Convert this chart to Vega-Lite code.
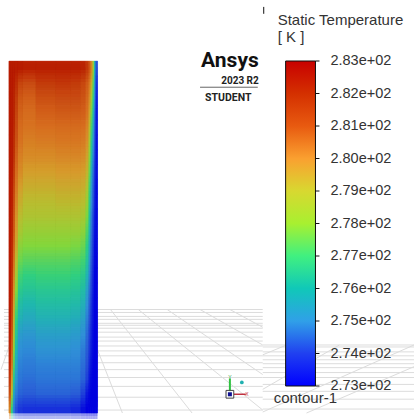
{"$schema":"https://vega.github.io/schema/vega-lite/v6.json","width":415,"height":419,"padding":0,"autosize":{"type":"fit","contains":"padding"},"background":"white","view":{"stroke":null},
"datasets":{
"plate":[
{"x0":8,"x1":10,"y0":62,"y1":77,"t":283},{"x0":10,"x1":12,"y0":62,"y1":77,"t":283},{"x0":12,"x1":14,"y0":62,"y1":77,"t":283},{"x0":14,"x1":17,"y0":62,"y1":77,"t":283},{"x0":17,"x1":22,"y0":62,"y1":77,"t":283},{"x0":22,"x1":35,"y0":62,"y1":77,"t":282.9},{"x0":35,"x1":55,"y0":62,"y1":77,"t":282.9},{"x0":55,"x1":70,"y0":62,"y1":77,"t":282.9},{"x0":70,"x1":80,"y0":62,"y1":77,"t":282.9},{"x0":80,"x1":85,"y0":62,"y1":77,"t":282.8},{"x0":85,"x1":88,"y0":62,"y1":77,"t":282.4},{"x0":88,"x1":90,"y0":62,"y1":77,"t":281.7},{"x0":90,"x1":92,"y0":62,"y1":77,"t":280.5},{"x0":92,"x1":93.5,"y0":62,"y1":77,"t":278.5},{"x0":93.5,"x1":95,"y0":62,"y1":77,"t":276},{"x0":95,"x1":97,"y0":62,"y1":77,"t":274},
{"x0":8,"x1":10,"y0":77,"y1":92,"t":283},{"x0":10,"x1":12,"y0":77,"y1":92,"t":283},{"x0":12,"x1":14,"y0":77,"y1":92,"t":282.9},{"x0":14,"x1":17,"y0":77,"y1":92,"t":282.6},{"x0":17,"x1":22,"y0":77,"y1":92,"t":282.1},{"x0":22,"x1":35,"y0":77,"y1":92,"t":281.9},{"x0":35,"x1":55,"y0":77,"y1":92,"t":282.3},{"x0":55,"x1":70,"y0":77,"y1":92,"t":282.4},{"x0":70,"x1":80,"y0":77,"y1":92,"t":282.3},{"x0":80,"x1":85,"y0":77,"y1":92,"t":282},{"x0":85,"x1":88,"y0":77,"y1":92,"t":281.5},{"x0":88,"x1":90,"y0":77,"y1":92,"t":280.8},{"x0":90,"x1":92,"y0":77,"y1":92,"t":279.5},{"x0":92,"x1":93.5,"y0":77,"y1":92,"t":277.5},{"x0":93.5,"x1":95,"y0":77,"y1":92,"t":275.5},{"x0":95,"x1":97,"y0":77,"y1":92,"t":273.6},
{"x0":8,"x1":10,"y0":92,"y1":107,"t":283},{"x0":10,"x1":12,"y0":92,"y1":107,"t":283},{"x0":12,"x1":14,"y0":92,"y1":107,"t":282.8},{"x0":14,"x1":17,"y0":92,"y1":107,"t":282.3},{"x0":17,"x1":22,"y0":92,"y1":107,"t":281.6},{"x0":22,"x1":35,"y0":92,"y1":107,"t":281.4},{"x0":35,"x1":55,"y0":92,"y1":107,"t":281.8},{"x0":55,"x1":70,"y0":92,"y1":107,"t":281.9},{"x0":70,"x1":80,"y0":92,"y1":107,"t":281.9},{"x0":80,"x1":85,"y0":92,"y1":107,"t":281.7},{"x0":85,"x1":88,"y0":92,"y1":107,"t":281.2},{"x0":88,"x1":90,"y0":92,"y1":107,"t":280.3},{"x0":90,"x1":92,"y0":92,"y1":107,"t":278.6},{"x0":92,"x1":93.5,"y0":92,"y1":107,"t":276.8},{"x0":93.5,"x1":95,"y0":92,"y1":107,"t":275},{"x0":95,"x1":97,"y0":92,"y1":107,"t":273.4},
{"x0":8,"x1":10,"y0":107,"y1":122,"t":283},{"x0":10,"x1":12,"y0":107,"y1":122,"t":283},{"x0":12,"x1":14,"y0":107,"y1":122,"t":282.8},{"x0":14,"x1":17,"y0":107,"y1":122,"t":282.1},{"x0":17,"x1":22,"y0":107,"y1":122,"t":281.3},{"x0":22,"x1":35,"y0":107,"y1":122,"t":281.1},{"x0":35,"x1":55,"y0":107,"y1":122,"t":281.4},{"x0":55,"x1":70,"y0":107,"y1":122,"t":281.5},{"x0":70,"x1":80,"y0":107,"y1":122,"t":281.5},{"x0":80,"x1":85,"y0":107,"y1":122,"t":281.4},{"x0":85,"x1":88,"y0":107,"y1":122,"t":280.9},{"x0":88,"x1":90,"y0":107,"y1":122,"t":279.8},{"x0":90,"x1":92,"y0":107,"y1":122,"t":277.8},{"x0":92,"x1":93.5,"y0":107,"y1":122,"t":276},{"x0":93.5,"x1":95,"y0":107,"y1":122,"t":274.6},{"x0":95,"x1":97,"y0":107,"y1":122,"t":273.3},
{"x0":8,"x1":10,"y0":122,"y1":137,"t":283},{"x0":10,"x1":12,"y0":122,"y1":137,"t":283},{"x0":12,"x1":14,"y0":122,"y1":137,"t":282.7},{"x0":14,"x1":17,"y0":122,"y1":137,"t":281.9},{"x0":17,"x1":22,"y0":122,"y1":137,"t":281.1},{"x0":22,"x1":35,"y0":122,"y1":137,"t":280.9},{"x0":35,"x1":55,"y0":122,"y1":137,"t":281},{"x0":55,"x1":70,"y0":122,"y1":137,"t":281.1},{"x0":70,"x1":80,"y0":122,"y1":137,"t":281.1},{"x0":80,"x1":85,"y0":122,"y1":137,"t":281},{"x0":85,"x1":88,"y0":122,"y1":137,"t":280.5},{"x0":88,"x1":90,"y0":122,"y1":137,"t":279.2},{"x0":90,"x1":92,"y0":122,"y1":137,"t":277.2},{"x0":92,"x1":93.5,"y0":122,"y1":137,"t":275.5},{"x0":93.5,"x1":95,"y0":122,"y1":137,"t":274.3},{"x0":95,"x1":97,"y0":122,"y1":137,"t":273.3},
{"x0":8,"x1":10,"y0":137,"y1":152,"t":283},{"x0":10,"x1":12,"y0":137,"y1":152,"t":283},{"x0":12,"x1":14,"y0":137,"y1":152,"t":282.6},{"x0":14,"x1":17,"y0":137,"y1":152,"t":281.7},{"x0":17,"x1":22,"y0":137,"y1":152,"t":280.9},{"x0":22,"x1":35,"y0":137,"y1":152,"t":280.6},{"x0":35,"x1":55,"y0":137,"y1":152,"t":280.7},{"x0":55,"x1":70,"y0":137,"y1":152,"t":280.8},{"x0":70,"x1":80,"y0":137,"y1":152,"t":280.8},{"x0":80,"x1":85,"y0":137,"y1":152,"t":280.7},{"x0":85,"x1":88,"y0":137,"y1":152,"t":280.2},{"x0":88,"x1":90,"y0":137,"y1":152,"t":278.7},{"x0":90,"x1":92,"y0":137,"y1":152,"t":276.7},{"x0":92,"x1":93.5,"y0":137,"y1":152,"t":275},{"x0":93.5,"x1":95,"y0":137,"y1":152,"t":274.1},{"x0":95,"x1":97,"y0":137,"y1":152,"t":273.2},
{"x0":8,"x1":10,"y0":152,"y1":167,"t":283},{"x0":10,"x1":12,"y0":152,"y1":167,"t":283},{"x0":12,"x1":14,"y0":152,"y1":167,"t":282.5},{"x0":14,"x1":17,"y0":152,"y1":167,"t":281.4},{"x0":17,"x1":22,"y0":152,"y1":167,"t":280.6},{"x0":22,"x1":35,"y0":152,"y1":167,"t":280.3},{"x0":35,"x1":55,"y0":152,"y1":167,"t":280.3},{"x0":55,"x1":70,"y0":152,"y1":167,"t":280.4},{"x0":70,"x1":80,"y0":152,"y1":167,"t":280.4},{"x0":80,"x1":85,"y0":152,"y1":167,"t":280.3},{"x0":85,"x1":88,"y0":152,"y1":167,"t":279.7},{"x0":88,"x1":90,"y0":152,"y1":167,"t":278.2},{"x0":90,"x1":92,"y0":152,"y1":167,"t":276.2},{"x0":92,"x1":93.5,"y0":152,"y1":167,"t":274.7},{"x0":93.5,"x1":95,"y0":152,"y1":167,"t":273.9},{"x0":95,"x1":97,"y0":152,"y1":167,"t":273.2},
{"x0":8,"x1":10,"y0":167,"y1":182,"t":283},{"x0":10,"x1":12,"y0":167,"y1":182,"t":283},{"x0":12,"x1":14,"y0":167,"y1":182,"t":282.3},{"x0":14,"x1":17,"y0":167,"y1":182,"t":281.1},{"x0":17,"x1":22,"y0":167,"y1":182,"t":280.3},{"x0":22,"x1":35,"y0":167,"y1":182,"t":279.9},{"x0":35,"x1":55,"y0":167,"y1":182,"t":279.9},{"x0":55,"x1":70,"y0":167,"y1":182,"t":280},{"x0":70,"x1":80,"y0":167,"y1":182,"t":280},{"x0":80,"x1":85,"y0":167,"y1":182,"t":279.9},{"x0":85,"x1":88,"y0":167,"y1":182,"t":279.3},{"x0":88,"x1":90,"y0":167,"y1":182,"t":277.7},{"x0":90,"x1":92,"y0":167,"y1":182,"t":275.7},{"x0":92,"x1":93.5,"y0":167,"y1":182,"t":274.4},{"x0":93.5,"x1":95,"y0":167,"y1":182,"t":273.7},{"x0":95,"x1":97,"y0":167,"y1":182,"t":273.2},
{"x0":8,"x1":10,"y0":182,"y1":197,"t":283},{"x0":10,"x1":12,"y0":182,"y1":197,"t":282.9},{"x0":12,"x1":14,"y0":182,"y1":197,"t":282.1},{"x0":14,"x1":17,"y0":182,"y1":197,"t":280.8},{"x0":17,"x1":22,"y0":182,"y1":197,"t":279.9},{"x0":22,"x1":35,"y0":182,"y1":197,"t":279.5},{"x0":35,"x1":55,"y0":182,"y1":197,"t":279.5},{"x0":55,"x1":70,"y0":182,"y1":197,"t":279.6},{"x0":70,"x1":80,"y0":182,"y1":197,"t":279.6},{"x0":80,"x1":85,"y0":182,"y1":197,"t":279.5},{"x0":85,"x1":88,"y0":182,"y1":197,"t":278.8},{"x0":88,"x1":90,"y0":182,"y1":197,"t":277.2},{"x0":90,"x1":92,"y0":182,"y1":197,"t":275.3},{"x0":92,"x1":93.5,"y0":182,"y1":197,"t":274.1},{"x0":93.5,"x1":95,"y0":182,"y1":197,"t":273.6},{"x0":95,"x1":97,"y0":182,"y1":197,"t":273.1},
{"x0":8,"x1":10,"y0":197,"y1":212,"t":283},{"x0":10,"x1":12,"y0":197,"y1":212,"t":282.9},{"x0":12,"x1":14,"y0":197,"y1":212,"t":281.9},{"x0":14,"x1":17,"y0":197,"y1":212,"t":280.5},{"x0":17,"x1":22,"y0":197,"y1":212,"t":279.5},{"x0":22,"x1":35,"y0":197,"y1":212,"t":279.1},{"x0":35,"x1":55,"y0":197,"y1":212,"t":279.1},{"x0":55,"x1":70,"y0":197,"y1":212,"t":279.2},{"x0":70,"x1":80,"y0":197,"y1":212,"t":279.2},{"x0":80,"x1":85,"y0":197,"y1":212,"t":279.1},{"x0":85,"x1":88,"y0":197,"y1":212,"t":278.4},{"x0":88,"x1":90,"y0":197,"y1":212,"t":276.8},{"x0":90,"x1":92,"y0":197,"y1":212,"t":275},{"x0":92,"x1":93.5,"y0":197,"y1":212,"t":274},{"x0":93.5,"x1":95,"y0":197,"y1":212,"t":273.5},{"x0":95,"x1":97,"y0":197,"y1":212,"t":273.1},
{"x0":8,"x1":10,"y0":212,"y1":227,"t":283},{"x0":10,"x1":12,"y0":212,"y1":227,"t":282.8},{"x0":12,"x1":14,"y0":212,"y1":227,"t":281.7},{"x0":14,"x1":17,"y0":212,"y1":227,"t":280.2},{"x0":17,"x1":22,"y0":212,"y1":227,"t":279.1},{"x0":22,"x1":35,"y0":212,"y1":227,"t":278.8},{"x0":35,"x1":55,"y0":212,"y1":227,"t":278.8},{"x0":55,"x1":70,"y0":212,"y1":227,"t":278.8},{"x0":70,"x1":80,"y0":212,"y1":227,"t":278.8},{"x0":80,"x1":85,"y0":212,"y1":227,"t":278.7},{"x0":85,"x1":88,"y0":212,"y1":227,"t":277.9},{"x0":88,"x1":90,"y0":212,"y1":227,"t":276.3},{"x0":90,"x1":92,"y0":212,"y1":227,"t":274.7},{"x0":92,"x1":93.5,"y0":212,"y1":227,"t":273.8},{"x0":93.5,"x1":95,"y0":212,"y1":227,"t":273.4},{"x0":95,"x1":97,"y0":212,"y1":227,"t":273.1},
{"x0":8,"x1":10,"y0":227,"y1":242,"t":283},{"x0":10,"x1":12,"y0":227,"y1":242,"t":282.8},{"x0":12,"x1":14,"y0":227,"y1":242,"t":281.6},{"x0":14,"x1":17,"y0":227,"y1":242,"t":280},{"x0":17,"x1":22,"y0":227,"y1":242,"t":278.7},{"x0":22,"x1":35,"y0":227,"y1":242,"t":278.4},{"x0":35,"x1":55,"y0":227,"y1":242,"t":278.4},{"x0":55,"x1":70,"y0":227,"y1":242,"t":278.4},{"x0":70,"x1":80,"y0":227,"y1":242,"t":278.4},{"x0":80,"x1":85,"y0":227,"y1":242,"t":278.2},{"x0":85,"x1":88,"y0":227,"y1":242,"t":277.4},{"x0":88,"x1":90,"y0":227,"y1":242,"t":275.9},{"x0":90,"x1":92,"y0":227,"y1":242,"t":274.5},{"x0":92,"x1":93.5,"y0":227,"y1":242,"t":273.7},{"x0":93.5,"x1":95,"y0":227,"y1":242,"t":273.3},{"x0":95,"x1":97,"y0":227,"y1":242,"t":273.1},
{"x0":8,"x1":10,"y0":242,"y1":257,"t":283},{"x0":10,"x1":12,"y0":242,"y1":257,"t":282.7},{"x0":12,"x1":14,"y0":242,"y1":257,"t":281.3},{"x0":14,"x1":17,"y0":242,"y1":257,"t":279.6},{"x0":17,"x1":22,"y0":242,"y1":257,"t":278.2},{"x0":22,"x1":35,"y0":242,"y1":257,"t":278},{"x0":35,"x1":55,"y0":242,"y1":257,"t":278},{"x0":55,"x1":70,"y0":242,"y1":257,"t":278},{"x0":70,"x1":80,"y0":242,"y1":257,"t":277.9},{"x0":80,"x1":85,"y0":242,"y1":257,"t":277.7},{"x0":85,"x1":88,"y0":242,"y1":257,"t":276.9},{"x0":88,"x1":90,"y0":242,"y1":257,"t":275.5},{"x0":90,"x1":92,"y0":242,"y1":257,"t":274.3},{"x0":92,"x1":93.5,"y0":242,"y1":257,"t":273.6},{"x0":93.5,"x1":95,"y0":242,"y1":257,"t":273.2},{"x0":95,"x1":97,"y0":242,"y1":257,"t":273.1},
{"x0":8,"x1":10,"y0":257,"y1":272,"t":283},{"x0":10,"x1":12,"y0":257,"y1":272,"t":282.6},{"x0":12,"x1":14,"y0":257,"y1":272,"t":281},{"x0":14,"x1":17,"y0":257,"y1":272,"t":279.1},{"x0":17,"x1":22,"y0":257,"y1":272,"t":277.7},{"x0":22,"x1":35,"y0":257,"y1":272,"t":277.5},{"x0":35,"x1":55,"y0":257,"y1":272,"t":277.5},{"x0":55,"x1":70,"y0":257,"y1":272,"t":277.5},{"x0":70,"x1":80,"y0":257,"y1":272,"t":277.4},{"x0":80,"x1":85,"y0":257,"y1":272,"t":277.2},{"x0":85,"x1":88,"y0":257,"y1":272,"t":276.4},{"x0":88,"x1":90,"y0":257,"y1":272,"t":275.1},{"x0":90,"x1":92,"y0":257,"y1":272,"t":274.1},{"x0":92,"x1":93.5,"y0":257,"y1":272,"t":273.5},{"x0":93.5,"x1":95,"y0":257,"y1":272,"t":273.2},{"x0":95,"x1":97,"y0":257,"y1":272,"t":273},
{"x0":8,"x1":10,"y0":272,"y1":287,"t":283},{"x0":10,"x1":12,"y0":272,"y1":287,"t":282.5},{"x0":12,"x1":14,"y0":272,"y1":287,"t":280.6},{"x0":14,"x1":17,"y0":272,"y1":287,"t":278.6},{"x0":17,"x1":22,"y0":272,"y1":287,"t":277.2},{"x0":22,"x1":35,"y0":272,"y1":287,"t":277},{"x0":35,"x1":55,"y0":272,"y1":287,"t":277.1},{"x0":55,"x1":70,"y0":272,"y1":287,"t":277.1},{"x0":70,"x1":80,"y0":272,"y1":287,"t":277},{"x0":80,"x1":85,"y0":272,"y1":287,"t":276.7},{"x0":85,"x1":88,"y0":272,"y1":287,"t":275.9},{"x0":88,"x1":90,"y0":272,"y1":287,"t":274.8},{"x0":90,"x1":92,"y0":272,"y1":287,"t":273.9},{"x0":92,"x1":93.5,"y0":272,"y1":287,"t":273.4},{"x0":93.5,"x1":95,"y0":272,"y1":287,"t":273.1},{"x0":95,"x1":97,"y0":272,"y1":287,"t":273},
{"x0":8,"x1":10,"y0":287,"y1":302,"t":283},{"x0":10,"x1":12,"y0":287,"y1":302,"t":282.4},{"x0":12,"x1":14,"y0":287,"y1":302,"t":280.2},{"x0":14,"x1":17,"y0":287,"y1":302,"t":278},{"x0":17,"x1":22,"y0":287,"y1":302,"t":276.7},{"x0":22,"x1":35,"y0":287,"y1":302,"t":276.5},{"x0":35,"x1":55,"y0":287,"y1":302,"t":276.6},{"x0":55,"x1":70,"y0":287,"y1":302,"t":276.6},{"x0":70,"x1":80,"y0":287,"y1":302,"t":276.5},{"x0":80,"x1":85,"y0":287,"y1":302,"t":276.2},{"x0":85,"x1":88,"y0":287,"y1":302,"t":275.4},{"x0":88,"x1":90,"y0":287,"y1":302,"t":274.5},{"x0":90,"x1":92,"y0":287,"y1":302,"t":273.8},{"x0":92,"x1":93.5,"y0":287,"y1":302,"t":273.3},{"x0":93.5,"x1":95,"y0":287,"y1":302,"t":273.1},{"x0":95,"x1":97,"y0":287,"y1":302,"t":273},
{"x0":8,"x1":10,"y0":302,"y1":317,"t":283},{"x0":10,"x1":12,"y0":302,"y1":317,"t":282.2},{"x0":12,"x1":14,"y0":302,"y1":317,"t":279.8},{"x0":14,"x1":17,"y0":302,"y1":317,"t":277.5},{"x0":17,"x1":22,"y0":302,"y1":317,"t":276.2},{"x0":22,"x1":35,"y0":302,"y1":317,"t":276},{"x0":35,"x1":55,"y0":302,"y1":317,"t":276.2},{"x0":55,"x1":70,"y0":302,"y1":317,"t":276.2},{"x0":70,"x1":80,"y0":302,"y1":317,"t":276.1},{"x0":80,"x1":85,"y0":302,"y1":317,"t":275.8},{"x0":85,"x1":88,"y0":302,"y1":317,"t":275},{"x0":88,"x1":90,"y0":302,"y1":317,"t":274.2},{"x0":90,"x1":92,"y0":302,"y1":317,"t":273.6},{"x0":92,"x1":93.5,"y0":302,"y1":317,"t":273.2},{"x0":93.5,"x1":95,"y0":302,"y1":317,"t":273.1},{"x0":95,"x1":97,"y0":302,"y1":317,"t":273},
{"x0":8,"x1":10,"y0":317,"y1":332,"t":283},{"x0":10,"x1":12,"y0":317,"y1":332,"t":282},{"x0":12,"x1":14,"y0":317,"y1":332,"t":279.3},{"x0":14,"x1":17,"y0":317,"y1":332,"t":277},{"x0":17,"x1":22,"y0":317,"y1":332,"t":275.8},{"x0":22,"x1":35,"y0":317,"y1":332,"t":275.6},{"x0":35,"x1":55,"y0":317,"y1":332,"t":275.8},{"x0":55,"x1":70,"y0":317,"y1":332,"t":275.8},{"x0":70,"x1":80,"y0":317,"y1":332,"t":275.7},{"x0":80,"x1":85,"y0":317,"y1":332,"t":275.4},{"x0":85,"x1":88,"y0":317,"y1":332,"t":274.7},{"x0":88,"x1":90,"y0":317,"y1":332,"t":274},{"x0":90,"x1":92,"y0":317,"y1":332,"t":273.5},{"x0":92,"x1":93.5,"y0":317,"y1":332,"t":273.2},{"x0":93.5,"x1":95,"y0":317,"y1":332,"t":273},{"x0":95,"x1":97,"y0":317,"y1":332,"t":273},
{"x0":8,"x1":10,"y0":332,"y1":347,"t":282.9},{"x0":10,"x1":12,"y0":332,"y1":347,"t":281.7},{"x0":12,"x1":14,"y0":332,"y1":347,"t":278.8},{"x0":14,"x1":17,"y0":332,"y1":347,"t":276.5},{"x0":17,"x1":22,"y0":332,"y1":347,"t":275.3},{"x0":22,"x1":35,"y0":332,"y1":347,"t":275.2},{"x0":35,"x1":55,"y0":332,"y1":347,"t":275.4},{"x0":55,"x1":70,"y0":332,"y1":347,"t":275.4},{"x0":70,"x1":80,"y0":332,"y1":347,"t":275.3},{"x0":80,"x1":85,"y0":332,"y1":347,"t":275},{"x0":85,"x1":88,"y0":332,"y1":347,"t":274.4},{"x0":88,"x1":90,"y0":332,"y1":347,"t":273.8},{"x0":90,"x1":92,"y0":332,"y1":347,"t":273.4},{"x0":92,"x1":93.5,"y0":332,"y1":347,"t":273.1},{"x0":93.5,"x1":95,"y0":332,"y1":347,"t":273},{"x0":95,"x1":97,"y0":332,"y1":347,"t":273},
{"x0":8,"x1":10,"y0":347,"y1":362,"t":282.8},{"x0":10,"x1":12,"y0":347,"y1":362,"t":281.3},{"x0":12,"x1":14,"y0":347,"y1":362,"t":278.2},{"x0":14,"x1":17,"y0":347,"y1":362,"t":276},{"x0":17,"x1":22,"y0":347,"y1":362,"t":275},{"x0":22,"x1":35,"y0":347,"y1":362,"t":274.9},{"x0":35,"x1":55,"y0":347,"y1":362,"t":275.1},{"x0":55,"x1":70,"y0":347,"y1":362,"t":275.1},{"x0":70,"x1":80,"y0":347,"y1":362,"t":275},{"x0":80,"x1":85,"y0":347,"y1":362,"t":274.7},{"x0":85,"x1":88,"y0":347,"y1":362,"t":274.2},{"x0":88,"x1":90,"y0":347,"y1":362,"t":273.7},{"x0":90,"x1":92,"y0":347,"y1":362,"t":273.3},{"x0":92,"x1":93.5,"y0":347,"y1":362,"t":273.1},{"x0":93.5,"x1":95,"y0":347,"y1":362,"t":273},{"x0":95,"x1":97,"y0":347,"y1":362,"t":273},
{"x0":8,"x1":10,"y0":362,"y1":377,"t":282.7},{"x0":10,"x1":12,"y0":362,"y1":377,"t":280.8},{"x0":12,"x1":14,"y0":362,"y1":377,"t":277.5},{"x0":14,"x1":17,"y0":362,"y1":377,"t":275.6},{"x0":17,"x1":22,"y0":362,"y1":377,"t":274.8},{"x0":22,"x1":35,"y0":362,"y1":377,"t":274.7},{"x0":35,"x1":55,"y0":362,"y1":377,"t":274.8},{"x0":55,"x1":70,"y0":362,"y1":377,"t":274.8},{"x0":70,"x1":80,"y0":362,"y1":377,"t":274.8},{"x0":80,"x1":85,"y0":362,"y1":377,"t":274.5},{"x0":85,"x1":88,"y0":362,"y1":377,"t":274},{"x0":88,"x1":90,"y0":362,"y1":377,"t":273.5},{"x0":90,"x1":92,"y0":362,"y1":377,"t":273.2},{"x0":92,"x1":93.5,"y0":362,"y1":377,"t":273},{"x0":93.5,"x1":95,"y0":362,"y1":377,"t":273},{"x0":95,"x1":97,"y0":362,"y1":377,"t":273},
{"x0":8,"x1":10,"y0":377,"y1":392,"t":282.4},{"x0":10,"x1":12,"y0":377,"y1":392,"t":280},{"x0":12,"x1":14,"y0":377,"y1":392,"t":276.7},{"x0":14,"x1":17,"y0":377,"y1":392,"t":275.2},{"x0":17,"x1":22,"y0":377,"y1":392,"t":274.6},{"x0":22,"x1":35,"y0":377,"y1":392,"t":274.5},{"x0":35,"x1":55,"y0":377,"y1":392,"t":274.6},{"x0":55,"x1":70,"y0":377,"y1":392,"t":274.6},{"x0":70,"x1":80,"y0":377,"y1":392,"t":274.6},{"x0":80,"x1":85,"y0":377,"y1":392,"t":274.3},{"x0":85,"x1":88,"y0":377,"y1":392,"t":273.8},{"x0":88,"x1":90,"y0":377,"y1":392,"t":273.3},{"x0":90,"x1":92,"y0":377,"y1":392,"t":273.1},{"x0":92,"x1":93.5,"y0":377,"y1":392,"t":273},{"x0":93.5,"x1":95,"y0":377,"y1":392,"t":273},{"x0":95,"x1":97,"y0":377,"y1":392,"t":273},
{"x0":8,"x1":10,"y0":392,"y1":407,"t":281.8},{"x0":10,"x1":12,"y0":392,"y1":407,"t":278.8},{"x0":12,"x1":14,"y0":392,"y1":407,"t":275.7},{"x0":14,"x1":17,"y0":392,"y1":407,"t":274.7},{"x0":17,"x1":22,"y0":392,"y1":407,"t":274.3},{"x0":22,"x1":35,"y0":392,"y1":407,"t":274.2},{"x0":35,"x1":55,"y0":392,"y1":407,"t":274.3},{"x0":55,"x1":70,"y0":392,"y1":407,"t":274.3},{"x0":70,"x1":80,"y0":392,"y1":407,"t":274.2},{"x0":80,"x1":85,"y0":392,"y1":407,"t":273.8},{"x0":85,"x1":88,"y0":392,"y1":407,"t":273.3},{"x0":88,"x1":90,"y0":392,"y1":407,"t":273.1},{"x0":90,"x1":92,"y0":392,"y1":407,"t":273},{"x0":92,"x1":93.5,"y0":392,"y1":407,"t":273},{"x0":93.5,"x1":95,"y0":392,"y1":407,"t":273},{"x0":95,"x1":97,"y0":392,"y1":407,"t":273},
{"x0":8,"x1":10,"y0":407,"y1":419,"t":280.5},{"x0":10,"x1":12,"y0":407,"y1":419,"t":277},{"x0":12,"x1":14,"y0":407,"y1":419,"t":274.8},{"x0":14,"x1":17,"y0":407,"y1":419,"t":274},{"x0":17,"x1":22,"y0":407,"y1":419,"t":273.7},{"x0":22,"x1":35,"y0":407,"y1":419,"t":273.6},{"x0":35,"x1":55,"y0":407,"y1":419,"t":273.6},{"x0":55,"x1":70,"y0":407,"y1":419,"t":273.6},{"x0":70,"x1":80,"y0":407,"y1":419,"t":273.5},{"x0":80,"x1":85,"y0":407,"y1":419,"t":273.2},{"x0":85,"x1":88,"y0":407,"y1":419,"t":273},{"x0":88,"x1":90,"y0":407,"y1":419,"t":273},{"x0":90,"x1":92,"y0":407,"y1":419,"t":273},{"x0":92,"x1":93.5,"y0":407,"y1":419,"t":273},{"x0":93.5,"x1":95,"y0":407,"y1":419,"t":273},{"x0":95,"x1":97,"y0":407,"y1":419,"t":273}
],
"floor":[
{"a":3,"b":263,"c":314,"d":314},{"a":3,"b":263,"c":317,"d":317},{"a":3,"b":263,"c":321,"d":321},{"a":3,"b":263,"c":324,"d":324},{"a":3,"b":263,"c":328,"d":328},{"a":3,"b":263,"c":330,"d":330},{"a":3,"b":263,"c":333,"d":333},{"a":3,"b":263,"c":337,"d":337},{"a":3,"b":263,"c":342,"d":342},{"a":3,"b":263,"c":346,"d":346},{"a":3,"b":263,"c":351,"d":351},{"a":3,"b":263,"c":356,"d":356},{"a":3,"b":263,"c":361,"d":361},{"a":3,"b":263,"c":368,"d":368},{"a":3,"b":263,"c":375,"d":375},{"a":3,"b":263,"c":383,"d":383},{"a":3,"b":263,"c":392,"d":392},{"a":3,"b":263,"c":403,"d":403},{"a":3,"b":263,"c":416,"d":416},
{"a":110,"b":192,"c":314,"d":419},{"a":138,"b":263,"c":314,"d":416},{"a":167,"b":263,"c":314,"d":380},{"a":200,"b":263,"c":314,"d":350},{"a":230,"b":263,"c":314,"d":332},{"a":97,"b":122,"c":355,"d":419},{"a":0,"b":8,"c":375,"d":352},
{"a":263,"b":415,"c":350,"d":350},{"a":263,"b":415,"c":352,"d":352},{"a":263,"b":415,"c":357,"d":357},{"a":263,"b":415,"c":361,"d":361},{"a":263,"b":415,"c":365,"d":365},{"a":263,"b":415,"c":369,"d":369},{"a":263,"b":415,"c":373,"d":373},{"a":263,"b":415,"c":378,"d":378},{"a":263,"b":415,"c":383,"d":383},{"a":263,"b":415,"c":390,"d":390},{"a":263,"b":415,"c":397,"d":397},{"a":263,"b":415,"c":405,"d":405},{"a":263,"b":415,"c":415,"d":415},
{"a":263,"b":287,"c":360,"d":350},{"a":263,"b":415,"c":418,"d":350},{"a":307,"b":415,"c":419,"d":372},{"a":263,"b":340,"c":395,"d":350}
],
"ticks":[{"t":283},{"t":282},{"t":281},{"t":280},{"t":279},{"t":278},{"t":277},{"t":276},{"t":275},{"t":274},{"t":273}],
"labels":[{"t":283,"s":"2.83e+02"},{"t":282,"s":"2.82e+02"},{"t":281,"s":"2.81e+02"},{"t":280,"s":"2.80e+02"},{"t":279,"s":"2.79e+02"},{"t":278,"s":"2.78e+02"},{"t":277,"s":"2.77e+02"},{"t":276,"s":"2.76e+02"},{"t":275,"s":"2.75e+02"},{"t":274,"s":"2.74e+02"},{"t":273,"s":"2.73e+02"}],
"titles":[{"x":278,"y":20,"s":"Static Temperature"},{"x":278,"y":38,"s":"[ K ]"},{"x":274,"y":404,"s":"contour-1"}]
},
"layer":[
{"data":{"name":"floor"},"mark":{"type":"rule","color":"#dcdcdc","strokeWidth":1},"encoding":{"x":{"field":"a","type":"quantitative","scale":{"domain":[0,415],"nice":false,"zero":false},"axis":null},"x2":{"field":"b"},"y":{"field":"c","type":"quantitative","scale":{"domain":[419,0],"nice":false,"zero":false},"axis":null},"y2":{"field":"d"}}},
{"data":{"name":"plate"},"mark":{"type":"rect","strokeWidth":0.6},"encoding":{"x":{"field":"x0","type":"quantitative","axis":null},"x2":{"field":"x1"},"y":{"field":"y0","type":"quantitative","scale":{"domain":[419,0],"nice":false,"zero":false},"axis":null},"y2":{"field":"y1"},"color":{"field":"t","type":"quantitative","legend":null,"scale":{"domain":[273,274,275,276,277,278,279,280,281,282,283],"range":["#0000e0","#2850d8","#3090d8","#20b8b0","#30d080","#84d83c","#b8c030","#d89a2c","#d87020","#c84810","#b81c00"],"interpolate":"rgb"}},"stroke":{"field":"t","type":"quantitative","legend":null,"scale":{"domain":[273,274,275,276,277,278,279,280,281,282,283],"range":["#0000e0","#2850d8","#3090d8","#20b8b0","#30d080","#84d83c","#b8c030","#d89a2c","#d87020","#c84810","#b81c00"],"interpolate":"rgb"}}}},
{"data":{"name":"plate"},"mark":{"type":"rect","strokeWidth":0,"opacity":0.5,"yOffset":-6,"y2Offset":-6},"encoding":{"x":{"field":"x0","type":"quantitative","axis":null},"x2":{"field":"x1"},"y":{"field":"y0","type":"quantitative","scale":{"domain":[419,0],"nice":false,"zero":false},"axis":null},"y2":{"field":"y1"},"color":{"field":"t","type":"quantitative","legend":null,"scale":{"domain":[273,274,275,276,277,278,279,280,281,282,283],"range":["#0000e0","#2850d8","#3090d8","#20b8b0","#30d080","#84d83c","#b8c030","#d89a2c","#d87020","#c84810","#b81c00"],"interpolate":"rgb"}}}},
{"data":{"name":"plate"},"mark":{"type":"rect","strokeWidth":0,"opacity":0.333,"yOffset":6,"y2Offset":6},"encoding":{"x":{"field":"x0","type":"quantitative","axis":null},"x2":{"field":"x1"},"y":{"field":"y0","type":"quantitative","scale":{"domain":[419,0],"nice":false,"zero":false},"axis":null},"y2":{"field":"y1"},"color":{"field":"t","type":"quantitative","legend":null,"scale":{"domain":[273,274,275,276,277,278,279,280,281,282,283],"range":["#0000e0","#2850d8","#3090d8","#20b8b0","#30d080","#84d83c","#b8c030","#d89a2c","#d87020","#c84810","#b81c00"],"interpolate":"rgb"}}}},
{"data":{"name":"plate"},"mark":{"type":"rect","strokeWidth":0,"opacity":0.25,"yOffset":-3,"y2Offset":-3},"encoding":{"x":{"field":"x0","type":"quantitative","axis":null},"x2":{"field":"x1"},"y":{"field":"y0","type":"quantitative","scale":{"domain":[419,0],"nice":false,"zero":false},"axis":null},"y2":{"field":"y1"},"color":{"field":"t","type":"quantitative","legend":null,"scale":{"domain":[273,274,275,276,277,278,279,280,281,282,283],"range":["#0000e0","#2850d8","#3090d8","#20b8b0","#30d080","#84d83c","#b8c030","#d89a2c","#d87020","#c84810","#b81c00"],"interpolate":"rgb"}}}},
{"data":{"name":"plate"},"mark":{"type":"rect","strokeWidth":0,"opacity":0.2,"yOffset":3,"y2Offset":3},"encoding":{"x":{"field":"x0","type":"quantitative","axis":null},"x2":{"field":"x1"},"y":{"field":"y0","type":"quantitative","scale":{"domain":[419,0],"nice":false,"zero":false},"axis":null},"y2":{"field":"y1"},"color":{"field":"t","type":"quantitative","legend":null,"scale":{"domain":[273,274,275,276,277,278,279,280,281,282,283],"range":["#0000e0","#2850d8","#3090d8","#20b8b0","#30d080","#84d83c","#b8c030","#d89a2c","#d87020","#c84810","#b81c00"],"interpolate":"rgb"}}}},
{"data":{"values":[{"a":6,"b":99,"c":50,"d":61.7}]},"mark":{"type":"rect","color":"#ffffff"},"encoding":{"x":{"field":"a","type":"quantitative","axis":null},"x2":{"field":"b"},"y":{"field":"c","type":"quantitative","scale":{"domain":[419,0],"nice":false,"zero":false},"axis":null},"y2":{"field":"d"}}},
{"data":{"values":[{"x0":286,"x1":316,"t0":273,"t1":283}]},"mark":{"type":"rect","stroke":"#111111","strokeWidth":1,"fill":{"gradient":"linear","x1":0,"y1":0,"x2":0,"y2":1,"stops":[{"offset":0,"color":"#c80000"},{"offset":0.1,"color":"#d43000"},{"offset":0.2,"color":"#e85a10"},{"offset":0.3,"color":"#faa030"},{"offset":0.4,"color":"#d8d830"},{"offset":0.5,"color":"#a8f030"},{"offset":0.6,"color":"#40f080"},{"offset":0.7,"color":"#10c8b8"},{"offset":0.8,"color":"#30a0e8"},{"offset":0.9,"color":"#2040f0"},{"offset":1,"color":"#0000ff"}]}},"encoding":{"x":{"field":"x0","type":"quantitative","axis":null},"x2":{"field":"x1"},"y":{"field":"t1","type":"quantitative","scale":{"domain":[273,283],"range":[386,61],"nice":false,"zero":false},"axis":null},"y2":{"field":"t0"}}},
{"data":{"name":"ticks"},"mark":{"type":"rule","color":"#111111","strokeWidth":1},"encoding":{"x":{"datum":316,"type":"quantitative","axis":null},"x2":{"datum":320},"y":{"field":"t","type":"quantitative","scale":{"domain":[273,283],"range":[386,61],"nice":false,"zero":false},"axis":null}}},
{"data":{"name":"labels"},"mark":{"type":"text","align":"left","baseline":"middle","font":"Liberation Sans","fontSize":14.5,"color":"#333333"},"encoding":{"x":{"datum":331,"type":"quantitative","axis":null},"y":{"field":"t","type":"quantitative","scale":{"domain":[273,283],"range":[386,61],"nice":false,"zero":false},"axis":null},"text":{"field":"s"}}},
{"data":{"name":"titles"},"mark":{"type":"text","align":"left","baseline":"middle","font":"Liberation Sans","fontSize":15,"color":"#333333"},"encoding":{"x":{"field":"x","type":"quantitative","axis":null},"y":{"field":"y","type":"quantitative","scale":{"domain":[419,0],"nice":false,"zero":false},"axis":null},"text":{"field":"s"}}},
{"data":{"values":[{"x":259,"y":68,"s":"Ansys"}]},"mark":{"type":"text","align":"right","baseline":"alphabetic","font":"Roboto","fontWeight":700,"fontSize":21,"color":"#111111"},"encoding":{"x":{"field":"x","type":"quantitative","axis":null},"y":{"field":"y","type":"quantitative","scale":{"domain":[419,0],"nice":false,"zero":false},"axis":null},"text":{"field":"s"}}},
{"data":{"values":[{"x":259,"y":85,"s":"2023 R2"}]},"mark":{"type":"text","align":"right","baseline":"alphabetic","font":"Roboto","fontWeight":700,"fontSize":10,"color":"#222222"},"encoding":{"x":{"field":"x","type":"quantitative","axis":null},"y":{"field":"y","type":"quantitative","scale":{"domain":[419,0],"nice":false,"zero":false},"axis":null},"text":{"field":"s"}}},
{"data":{"values":[{"x":205,"y":102,"s":"STUDENT"}]},"mark":{"type":"text","align":"left","baseline":"alphabetic","font":"Roboto","fontWeight":700,"fontSize":10.5,"color":"#222222"},"encoding":{"x":{"field":"x","type":"quantitative","axis":null},"y":{"field":"y","type":"quantitative","scale":{"domain":[419,0],"nice":false,"zero":false},"axis":null},"text":{"field":"s"}}},
{"data":{"values":[{"a":200,"b":258,"c":88.5}]},"mark":{"type":"rule","color":"#666666","strokeWidth":1},"encoding":{"x":{"field":"a","type":"quantitative","axis":null},"x2":{"field":"b"},"y":{"field":"c","type":"quantitative","scale":{"domain":[419,0],"nice":false,"zero":false},"axis":null}}},
{"data":{"values":[{"x":264,"c":7,"d":14}]},"mark":{"type":"rule","color":"#111111","strokeWidth":1},"encoding":{"x":{"field":"x","type":"quantitative","axis":null},"y":{"field":"c","type":"quantitative","scale":{"domain":[419,0],"nice":false,"zero":false},"axis":null},"y2":{"field":"d"}}},
{"data":{"values":[{"x":230,"c":384,"d":397}]},"mark":{"type":"rule","color":"#30c040","strokeWidth":2},"encoding":{"x":{"field":"x","type":"quantitative","axis":null},"y":{"field":"c","type":"quantitative","scale":{"domain":[419,0],"nice":false,"zero":false},"axis":null},"y2":{"field":"d"}}},
{"data":{"values":[{"a":234,"b":246,"c":400}]},"mark":{"type":"rule","color":"#c03040","strokeWidth":1.5},"encoding":{"x":{"field":"a","type":"quantitative","axis":null},"x2":{"field":"b"},"y":{"field":"c","type":"quantitative","scale":{"domain":[419,0],"nice":false,"zero":false},"axis":null}}},
{"data":{"values":[{"x":230,"y":400}]},"mark":{"type":"point","shape":"square","size":60,"fill":"#ffffff","fillOpacity":0.6,"stroke":"#444444","strokeWidth":1,"opacity":1},"encoding":{"x":{"field":"x","type":"quantitative","axis":null},"y":{"field":"y","type":"quantitative","scale":{"domain":[419,0],"nice":false,"zero":false},"axis":null}}},
{"data":{"values":[{"x":230,"y":400}]},"mark":{"type":"point","shape":"square","size":16,"filled":true,"color":"#101090","opacity":1},"encoding":{"x":{"field":"x","type":"quantitative","axis":null},"y":{"field":"y","type":"quantitative","scale":{"domain":[419,0],"nice":false,"zero":false},"axis":null}}},
{"data":{"values":[{"x":242,"y":388}]},"mark":{"type":"point","shape":"circle","size":14,"filled":true,"color":"#20b0b0","opacity":1},"encoding":{"x":{"field":"x","type":"quantitative","axis":null},"y":{"field":"y","type":"quantitative","scale":{"domain":[419,0],"nice":false,"zero":false},"axis":null}}},
{"data":{"values":[{"x":230,"y":382,"s":"Y"}]},"mark":{"type":"text","align":"center","baseline":"middle","font":"Liberation Sans","fontSize":5,"color":"#30a040"},"encoding":{"x":{"field":"x","type":"quantitative","axis":null},"y":{"field":"y","type":"quantitative","scale":{"domain":[419,0],"nice":false,"zero":false},"axis":null},"text":{"field":"s"}}},
{"data":{"values":[{"x":247,"y":400,"s":"X"}]},"mark":{"type":"text","align":"center","baseline":"middle","font":"Liberation Sans","fontSize":5,"color":"#c03040"},"encoding":{"x":{"field":"x","type":"quantitative","axis":null},"y":{"field":"y","type":"quantitative","scale":{"domain":[419,0],"nice":false,"zero":false},"axis":null},"text":{"field":"s"}}}
],
"resolve":{"scale":{"y":"independent","color":"independent"}}
}
